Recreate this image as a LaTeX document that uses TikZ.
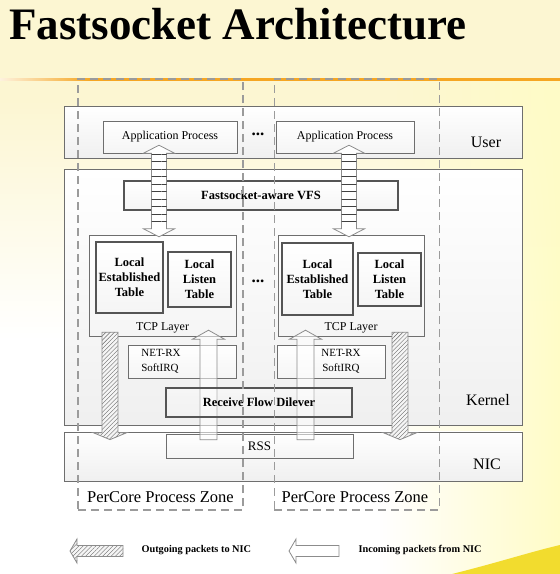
\documentclass[tikz,border=0pt]{standalone}
\usepackage{fontspec}
\setmainfont{Liberation Serif}
\usetikzlibrary{positioning, calc, patterns.meta, fadings}
\definecolor{creambg}{RGB}{252,246,210}
\definecolor{lineorange}{RGB}{245,166,35}
\definecolor{boxgray}{RGB}{110,110,110}
\definecolor{edgedark}{RGB}{85,85,85}
\definecolor{zonegray}{RGB}{155,155,155}
\definecolor{arrowgray}{RGB}{140,140,140}
\definecolor{swoosh}{RGB}{242,220,46}
\tikzfading[name=fade in right, left color=transparent!100, right color=transparent!0]

% big arrows: double "ladder" arrow, incoming (up), outgoing (down)
\newcommand{\ladderarrow}[2]{%
  \draw[ladder] (#1) -- ++(15.5,-8) -- ++(-8,0) -- ($(#2)+(7.5,8)$) -- ++(8,0) -- (#2)
    -- ++(-15.5,8) -- ++(8,0) -- ($(#1)+(-7.5,-8)$) -- ++(-8,0) -- cycle;
  \fill[rungs] ($(#1)+(-7.5,-8)$) rectangle ($(#2)+(7.5,8)$);}
\newcommand{\inarrow}[2]{%
  \draw[inpkt] ($(#1)+(-8.5,0)$) -- ($(#2)+(-8.5,-9)$) -- ++(-7.5,0) -- (#2)
    -- ++(16,-9) -- ++(-7.5,0) -- ($(#1)+(8.5,0)$) -- cycle;}
\newcommand{\outarrow}[2]{%
  \draw[outpkt] ($(#1)+(-8,0)$) -- ($(#2)+(-8,7)$) -- ++(-9,0) -- (#2)
    -- ++(17,7) -- ++(-9,0) -- ($(#1)+(8,0)$) -- cycle;}
\newcommand{\legendarrow}[3]{%
  \draw[#1] (#2) -- ++(7,12) -- ++(0,-6.5) -- ++({#3-7},0) -- ++(0,-11)
    -- ++({7-#3},0) -- ++(0,-6.5) -- cycle;}

\begin{document}
\begin{tikzpicture}[x=1pt, y=1pt]
    % Styles
    \tikzstyle{layer} = [rectangle, draw=boxgray, top color=white, bottom color=gray!12, minimum width=458pt, inner sep=0pt]
    \tikzstyle{box} = [rectangle, draw=boxgray, top color=white, bottom color=gray!8, inner sep=0pt, font=\fontsize{12}{14}\selectfont]
    \tikzstyle{boldbox} = [box, draw=edgedark, line width=1.5pt, font=\bfseries\fontsize{12.5}{15}\selectfont, align=center]
    \tikzstyle{zone} = [rectangle, draw=zonegray, line width=1.4pt, dash pattern=on 8pt off 5pt, minimum width=165pt, minimum height=431pt]
    \tikzstyle{zonetext} = [font=\fontsize{16.5}{18}\selectfont]
    \tikzstyle{layertext} = [font=\fontsize{16}{18}\selectfont]
    \tikzstyle{tcplbl} = [label distance=-17pt, font=\fontsize{12}{14}\selectfont]
    \tikzstyle{netlbl} = [font=\fontsize{11}{15}\selectfont]
    \tikzstyle{dots} = [font=\bfseries\fontsize{17}{18}\selectfont]
    \tikzstyle{legendtext} = [anchor=west, font=\bfseries\fontsize{10.3}{12}\selectfont]
    \tikzstyle{ladder} = [draw=arrowgray, line width=0.8pt, fill=white]
    \tikzstyle{rungs} = [pattern={Lines[angle=0, distance=7.5pt, line width=0.7pt]}, pattern color=black!75]
    \tikzstyle{inpkt} = [draw=arrowgray, line width=0.8pt, fill=white, fill opacity=0.55]
    \tikzstyle{outpkt} = [draw=arrowgray, line width=0.8pt, preaction={fill=gray!8}, pattern={Lines[angle=45, distance=3pt, line width=0.4pt]}, pattern color=black!60]

    % Background
    \fill[white] (0,0) rectangle (560,-574);
    \fill[creambg] (0,0) rectangle (560,-100);
    \shade[top color=creambg, bottom color=white] (0,-100) rectangle (560,-340);
    \fill[yellow!22, path fading=fade in right] (380,-80) rectangle (560,-574);
    \fill[swoosh] (452,-574) .. controls (500,-562) and (530,-552) .. (560,-545) -- (560,-574) -- cycle;
    \shade[left color=lineorange!15, right color=lineorange] (0,-78) rectangle (90,-80.5);
    \fill[lineorange] (90,-78) rectangle (560,-80.5);
    \useasboundingbox (0,0) rectangle (560,-574);

    % Title
    \node[anchor=base west, font=\bfseries\fontsize{45}{50}\selectfont, inner sep=0pt] (title) at (9,-39) {Fastsocket Architecture};

    % Layers
    \node[layer, minimum height=52pt] (user) at (293,-132) {};
    \node[layer, minimum height=256pt, below=11pt of user] (kernel) {};
    \node[layer, minimum height=49pt, below=6pt of kernel] (nic) {};
    \node[layertext] (userlbl) at (486,-142) {User};
    \node[layertext] (kernellbl) at (488,-400) {Kernel};
    \node[layertext] (niclbl) at (487,-464) {NIC};

    % User space
    \node[box, minimum width=134pt, minimum height=32pt] (app1) at (170,-137) {Application Process};
    \node[box, minimum width=138pt, minimum height=32pt] (app2) at (345,-137) {Application Process};
    \node[dots] (dots1) at (258,-134) {...};

    % Kernel
    \node[boldbox, minimum width=274pt, minimum height=29pt] (vfs) at (261,-195.5) {Fastsocket-aware VFS};
    \node[box, minimum width=147pt, minimum height=101pt, label={[tcplbl]south:TCP Layer}] (tcp1) at (162.5,-285.5) {};
    \node[box, minimum width=146pt, minimum height=101pt, label={[tcplbl]south:TCP Layer}] (tcp2) at (351,-285.5) {};
    \node[boldbox, minimum width=67pt, minimum height=71pt] (est1) at (129.5,-277.5) {Local\\Established\\Table};
    \node[boldbox, minimum width=63pt, minimum height=55pt] (lis1) at (199.5,-279.5) {Local\\Listen\\Table};
    \node[boldbox, minimum width=71pt, minimum height=72pt] (est2) at (317.5,-279) {Local\\Established\\Table};
    \node[boldbox, minimum width=63pt, minimum height=53pt] (lis2) at (389.5,-279.5) {Local\\Listen\\Table};
    \node[dots] (dots2) at (258,-281) {...};
    \node[box, minimum width=108pt, minimum height=33pt, label={[netlbl, align=left, xshift=-21pt]center:NET-RX\\SoftIRQ}] (netrx1) at (182,-361.5) {};
    \node[box, minimum width=108pt, minimum height=33pt, label={[netlbl, align=center, xshift=10pt]center:NET-RX\\SoftIRQ}] (netrx2) at (331,-361.5) {};

    % NIC
    \node[box, minimum width=187pt, minimum height=24pt, font=\fontsize{13}{15}\selectfont] (rss) at (259.5,-446) {RSS};

    % Arrows
    \coordinate (lad1a) at (app1.south -| 159,0);
    \coordinate (lad1b) at ($(tcp1.north -| 159,0)+(0,-2)$);
    \coordinate (lad2a) at (app2.south -| 349,0);
    \coordinate (lad2b) at ($(tcp2.north -| 349,0)+(0,-2)$);
    \ladderarrow{$(lad1a)+(0,8)$}{lad1b}
    \ladderarrow{$(lad2a)+(0,8)$}{lad2b}

    \coordinate (in1a) at ($(rss.north -| 208.5,0)+(0,-6)$);
    \coordinate (in1b) at ($(tcp1.south -| 208.5,0)+(0,6)$);
    \coordinate (in2a) at ($(rss.north -| 305.5,0)+(0,-6)$);
    \coordinate (in2b) at ($(tcp2.south -| 305.5,0)+(0,6)$);
    \inarrow{in1a}{in1b}
    \inarrow{in2a}{in2b}

    \coordinate (out1a) at ($(tcp1.south -| 110,0)+(0,4)$);
    \coordinate (out1b) at ($(nic.north -| 110,0)+(0,-8)$);
    \coordinate (out2a) at ($(tcp2.south -| 400,0)+(0,4)$);
    \coordinate (out2b) at ($(nic.north -| 400,0)+(0,-8)$);
    \outarrow{out1a}{out1b}
    \outarrow{out2a}{out2b}

    % Receive Flow Dilever sits over the incoming arrows
    \node[boldbox, top color=white, bottom color=gray!8, fill opacity=0.35, text opacity=1, minimum width=186pt, minimum height=29pt] (rfd) at (259,-402.5) {Receive Flow Dilever};

    % PerCore zones
    \node[zone] (zone1) at (160.5,-294.5) {};
    \node[zone, right=30pt of zone1] (zone2) {};
    \node[zonetext] (zlbl1) at (160.5,-497) {PerCore Process Zone};
    \node[zonetext] (zlbl2) at (355,-497) {PerCore Process Zone};

    % Legend
    \coordinate (outtip) at (70,-551);
    \coordinate (intip) at (289,-551);
    \legendarrow{outpkt}{outtip}{53}
    \legendarrow{inpkt}{intip}{50}
    \node[legendtext] (outtxt) at (138,-550.5) {Outgoing packets to NIC};
    \node[legendtext] (intxt) at (355,-550.5) {Incoming packets from NIC};
\end{tikzpicture}
\end{document}
